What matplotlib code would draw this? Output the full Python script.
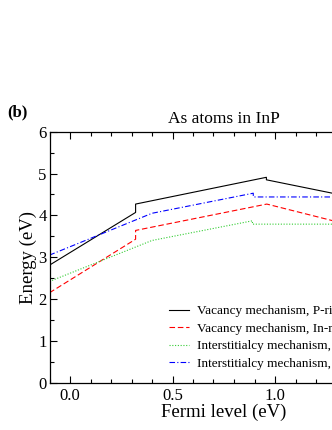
import numpy as np
import matplotlib
matplotlib.use("Agg")
import matplotlib.pyplot as plt
from matplotlib.ticker import MultipleLocator

plt.rcParams['font.family'] = ['Liberation Serif', 'DejaVu Serif']
plt.rcParams['mathtext.fontset'] = 'stix'

# Fermi level (eV) / formation energy (eV)
vac_p_x = [-0.1, 0.32, 0.32, 0.958, 0.958, 1.30]
vac_p_y = [2.81, 4.07, 4.27, 4.91, 4.85, 4.51]

vac_in_x = [-0.1, 0.32, 0.32, 0.96, 1.30]
vac_in_y = [2.15, 3.43, 3.64, 4.27, 3.85]

int_p_x = [-0.1, 0.40, 0.89, 0.89, 1.30]
int_p_y = [2.42, 3.40, 3.87, 3.79, 3.79]

int_in_x = [-0.1, 0.40, 0.894, 0.894, 1.30]
int_in_y = [3.05, 4.05, 4.53, 4.44, 4.44]

labels = ["Vacancy mechanism, P-rich",
          "Vacancy mechanism, In-rich",
          "Interstitialcy mechanism, P-rich",
          "Interstitialcy mechanism, In-rich"]

fig = plt.figure(figsize=(3.32, 4.30), dpi=100)
# axes run past the right edge of the picture (cropped figure)
ax = fig.add_axes([49.5 / 332, 47.3 / 430, (398 - 49.5) / 332, 251 / 430])

ax.plot(vac_p_x, vac_p_y, color='black', lw=0.8, label=labels[0])
ax.plot(vac_in_x, vac_in_y, color='red', lw=0.8, ls=(0, (5, 2.5)), label=labels[1])
ax.plot(int_p_x, int_p_y, color='#33cc33', lw=0.8, ls=(0, (1, 1.5)), label=labels[2])
ax.plot(int_in_x, int_in_y, color='blue', lw=0.8, ls=(0, (5, 2, 1, 2)), label=labels[3])

ax.set_xlim(-0.1, 1.6)
ax.set_ylim(0, 6)
ax.xaxis.set_major_locator(MultipleLocator(0.5))
ax.xaxis.set_minor_locator(MultipleLocator(0.1))
ax.yaxis.set_major_locator(MultipleLocator(1))
ax.yaxis.set_minor_locator(MultipleLocator(0.5))
ax.xaxis.set_major_formatter(matplotlib.ticker.FormatStrFormatter('%.1f'))
ax.tick_params(which='both', direction='in', top=True, right=True, labelsize=12, width=0.8)
ax.tick_params(which='major', length=5)
ax.tick_params(which='minor', length=3)
ax.tick_params(axis='y', pad=2)
for sp in ax.spines.values():
    sp.set_linewidth(0.9)

ax.set_xlabel('Fermi level (eV)', fontsize=13.5, labelpad=0)
ax.set_ylabel('Energy (eV)', fontsize=13.5, labelpad=1)
ax.set_title('As atoms in InP', fontsize=12.5, pad=6)

fig.text(7 / 332, 1 - 112 / 430, '(b)', fontsize=12, fontweight='bold', va='center')

ax.legend(loc='upper left', bbox_to_anchor=(169 / 332, 1 - 305 / 430),
          bbox_transform=fig.transFigure, frameon=False, fontsize=9.5,
          borderpad=0, borderaxespad=0, handlelength=1.5, handletextpad=0.6,
          labelspacing=0.4)

fig.savefig('out.png', dpi=100)
